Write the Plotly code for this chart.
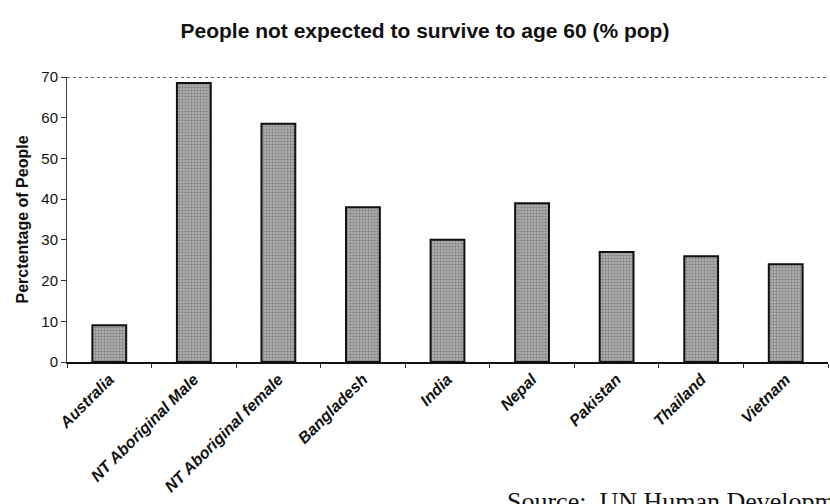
import plotly.graph_objects as go

categories = ["Australia", "NT Aboriginal Male", "NT Aboriginal female", "Bangladesh",
              "India", "Nepal", "Pakistan", "Thailand", "Vietnam"]
pct_not_surviving = [9, 68.5, 58.5, 38, 30, 39, 27, 26, 24]
y_ticks = [0, 10, 20, 30, 40, 50, 60, 70]

SANS = "Liberation Sans, Arial, sans-serif"

fig = go.Figure(go.Bar(
    x=categories,
    y=pct_not_surviving,
    marker=dict(
        color="#a8a8a8",
        line=dict(color="#111111", width=2),
        pattern=dict(shape=".", fgcolor="#555555", bgcolor="#b6b6b6", size=3, solidity=0.5),
    ),
))

fig.update_layout(
    width=830, height=504,
    margin=dict(l=67, r=2, t=77, b=142),
    paper_bgcolor="white", plot_bgcolor="white",
    bargap=0.6,
    showlegend=False,
    title=dict(
        text="<b>People not expected to survive to age 60 (% pop)</b>",
        font=dict(family=SANS, size=21, color="#111111"),
        x=0.512, xanchor="center", y=0.94, yanchor="middle",
    ),
    xaxis=dict(
        type="category",
        showline=True, linecolor="#111111", linewidth=1.5,
        ticks="outside", tickson="boundaries", ticklen=4, tickcolor="#333333",
        tickangle=-45,
        tickfont=dict(family=SANS, size=16, color="#111111", weight="bold", style="italic"),
        showgrid=False,
    ),
    yaxis=dict(
        range=[0, 70], tickvals=y_ticks,
        showline=True, linecolor="#444444", linewidth=1,
        ticks="outside", ticklen=5, tickcolor="#333333",
        tickfont=dict(family=SANS, size=15, color="#111111"),
        showgrid=False, zeroline=False,
        title=dict(text="<b>Perctentage of People</b>",
                   font=dict(family=SANS, size=16, color="#111111"), standoff=8),
    ),
    shapes=[dict(type="line", xref="paper", yref="y", x0=0, x1=1, y0=70, y1=70,
                 line=dict(color="#333333", width=1.5, dash="dot"))],
    annotations=[dict(
        text="Source:  UN Human Development Report",
        xref="paper", yref="paper", x=0.575, y=-0.49,
        xanchor="left", yanchor="middle", showarrow=False,
        font=dict(family="Liberation Serif, Times New Roman, serif", size=26, color="#111111"),
    )],
)

fig.write_html("out.html")
